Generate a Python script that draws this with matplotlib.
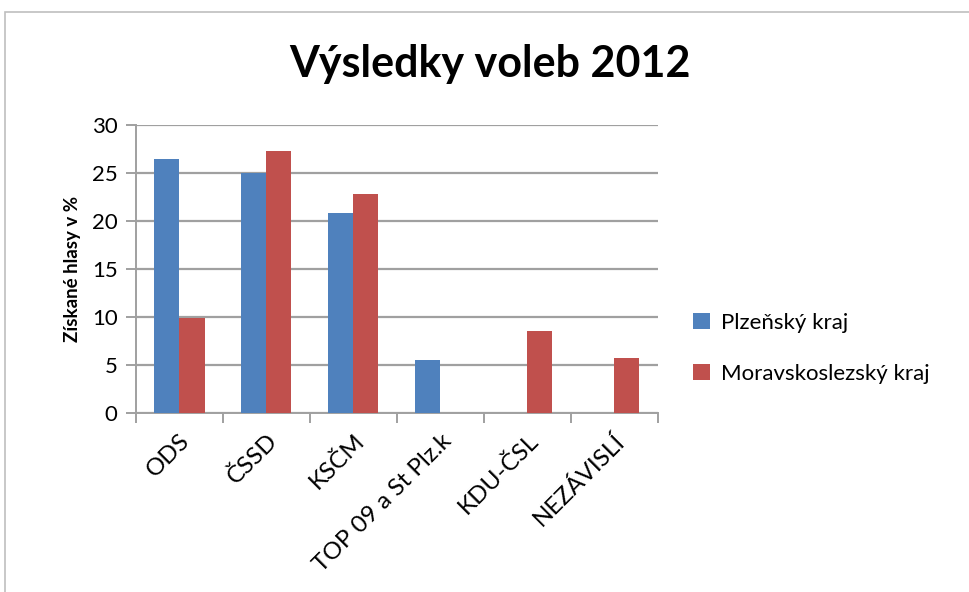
import numpy as np
import matplotlib
matplotlib.use('Agg')
import matplotlib.pyplot as plt
from matplotlib.patches import Rectangle

plt.rcParams['font.family'] = ['Lato', 'DejaVu Sans']

strany = ['ODS', 'ČSSD', 'KSČM', 'TOP 09 a St Plz.k', 'KDU-ČSL', 'NEZÁVISLÍ']
plzensky = [26.5, 25.0, 20.8, 5.5, 0, 0]
moravskoslezsky = [9.9, 27.3, 22.8, 0, 8.6, 5.7]
serie = ['Plzeňský kraj', 'Moravskoslezský kraj']
barvy = ['#4F81BD', '#C0504D']

fig = plt.figure(figsize=(9.7, 5.92), dpi=100)
ax = fig.add_axes([0.140, 0.302, 0.538, 0.487])

x = np.arange(len(strany))
w = 0.29
ax.bar(x - w / 2, plzensky, w, color=barvy[0], label=serie[0], zorder=3)
ax.bar(x + w / 2, moravskoslezsky, w, color=barvy[1], label=serie[1], zorder=3)

ax.set_xlim(-0.5, len(strany) - 0.5)
ax.set_ylim(0, 30)
ax.set_yticks(range(0, 31, 5))
ax.yaxis.grid(True, color='#A0A0A0', linewidth=1.6, zorder=0)
ax.set_axisbelow(True)

ax.set_xticks(x)
ax.set_xticklabels(strany, rotation=45, ha='right', rotation_mode='anchor', fontsize=17.5)
ax.set_xticks(np.arange(-0.5, len(strany)), minor=True)
ax.tick_params(axis='x', which='major', length=0, pad=12)
ax.tick_params(axis='x', which='minor', length=7, width=1.4, color='#A0A0A0')
ax.tick_params(axis='y', length=7, width=1.4, color='#A0A0A0', labelsize=16, pad=6)

for s in ['top', 'right']:
    ax.spines[s].set_visible(False)
for s in ['left', 'bottom']:
    ax.spines[s].set_color('#A0A0A0')
    ax.spines[s].set_linewidth(1.4)

ax.set_ylabel('Získané hlasy v %', fontsize=13.5, fontweight='bold', labelpad=8)
fig.suptitle('Výsledky voleb 2012', fontsize=31, fontweight='bold', x=0.505, y=0.925)

ax.legend(loc='center left', bbox_to_anchor=(1.03, 0.225), frameon=False, fontsize=16,
          handlelength=0.75, handleheight=0.75, handletextpad=0.5, labelspacing=1.4)

fig.patches.append(Rectangle((0.005, -0.05), 1.2, 1.03, transform=fig.transFigure,
                             fill=False, edgecolor='#BFBFBF', linewidth=1.2))

fig.savefig('out.png', dpi=100)
